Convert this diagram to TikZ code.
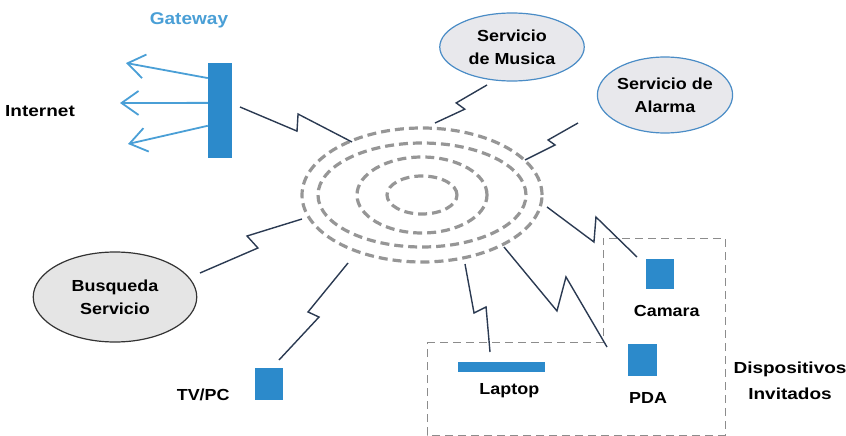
\documentclass[tikz,border=0pt]{standalone}
\usepackage{fontspec}
\setsansfont{Liberation Sans}
\usetikzlibrary{positioning,arrows.meta,calc,shapes.geometric}

\definecolor{devblue}{HTML}{2C8ACB}
\definecolor{arrblue}{HTML}{4A9FD6}
\definecolor{linkc}{HTML}{2B3A52}
\definecolor{ringc}{HTML}{969696}
\definecolor{srvfill}{HTML}{E8E8EC}
\definecolor{srvline}{HTML}{4A8CC6}

\begin{document}
\begin{tikzpicture}[x=1pt,y=-1pt,
  lbl/.style={font=\sffamily\bfseries\fontsize{16}{23}\selectfont,align=center,inner sep=0pt,xscale=1.12},
  srv/.style={lbl,ellipse,draw=srvline,fill=srvfill,line width=1.2pt},
  dev/.style={fill=devblue,inner sep=0pt},
  ring/.style={draw=ringc,line width=3.2pt,dash pattern=on 9pt off 5pt},
  arr/.style={arrblue,line width=1.8pt,-{Straight Barb[length=17pt,width=24pt]}},
  link/.style={linkc,line width=1.4pt},
  bolt/.style n args={4}{link,to path={-- ($(\tikztostart)!#1!(\tikztotarget)!#2pt!90:(\tikztotarget)$) -- ($(\tikztostart)!#3!(\tikztotarget)!#4pt!90:(\tikztotarget)$) -- (\tikztotarget)}},
  guest/.style={draw=black!45,dash pattern=on 8pt off 5pt,line width=0.8pt}]
\useasboundingbox (0,0) rectangle (846,436);

% red inalambrica
\coordinate (hub) at (422,195);
\foreach \rx/\ry in {120/67,104/52,65/38,35/19}
  \draw[ring] (hub) ellipse [x radius=\rx pt, y radius=\ry pt];

% gateway e internet
\node[dev,minimum width=24pt,minimum height=95pt] (gw) at (220,110.5) {};
\node[lbl,text=arrblue,font=\sffamily\bfseries\fontsize{17}{23}\selectfont] (gwL) at (189,20) {Gateway};
\node[lbl,xscale=1.06] (net) at (40,111) {Internet};
\coordinate (inA) at (126,63);
\coordinate (inB) at (120,103);
\coordinate (inC) at (128,144);
\foreach \t/\e in {.16/inA,.42/inB,.66/inC}
  \draw[arr] ($(gw.north west)!\t!(gw.south west)$) -- (\e);

% servicios
\node[srv,minimum width=129pt,minimum height=68pt] (mus) at (512,47) {Servicio\\de Musica};
\node[srv,minimum width=111pt,minimum height=76pt] (al) at (665,95) {Servicio de\\Alarma};
\node[srv,draw=black!80,fill=black!10,minimum width=146pt,minimum height=90pt] (bus) at (115,297) {Busqueda\\Servicio};

% dispositivos
\node[dev,minimum width=28pt,minimum height=32pt] (tv) at (269,384) {};
\node[dev,minimum width=87pt,minimum height=10pt] (lap) at (501.5,367) {};
\node[dev,minimum width=29pt,minimum height=32pt] (pda) at (642.5,360) {};
\node[dev,minimum width=28pt,minimum height=30pt] (cam) at (660,274) {};
\node[lbl,left=25pt of tv.south west,anchor=base east] (tvL) {TV/PC};
\node[lbl,below=11pt of lap,xshift=7pt] (lapL) {Laptop};
\node[lbl,below=16pt of pda,xshift=5pt] (pdaL) {PDA};
\node[lbl,below=16pt of cam,xshift=6pt] (camL) {Camara};

\draw[guest] (427,342) -- (603,342) -- (603,238) -- (725,238) -- (725,435) -- (427,435) -- cycle;
\node[lbl,font=\sffamily\bfseries\fontsize{16}{26}\selectfont,xscale=1.06] (inv) at (790,381) {Dispositivos\\Invitados};

% enlaces
\coordinate (rGw) at (352,142);  \coordinate (dGw) at (240,107);
\coordinate (rMus) at (435,123); \coordinate (dMus) at (487,85);
\coordinate (rAl) at (525,160);  \coordinate (dAl) at (578,123);
\coordinate (rBus) at (302,219); \coordinate (dBus) at (200,273);
\coordinate (rTv) at (348,263);  \coordinate (dTv) at (279,360);
\coordinate (rLap) at (465,264); \coordinate (dLap) at (490,352);
\coordinate (rPda) at (504,247); \coordinate (dPda) at (607,347);
\coordinate (rCam) at (547,207); \coordinate (dCam) at (637,257);
\foreach \a/\b/\ta/\da/\tb/\db in {rGw/dGw/.51/-10.6/.475/6,rMus/dMus/.5/-6.4/.45/3.7,
    rAl/dAl/.514/-4.9/.47/3.2,rBus/dBus/.49/-10.7/.455/5,rTv/dTv/.53/-4.2/.511/7.7,
    rLap/dLap/.542/-4.7/.515/8.5,rPda/dPda/.575/-9/.455/21.7,rCam/dCam/.564/-7.8/.463/15}
  \draw[bolt={\ta}{\da}{\tb}{\db}] (\a) to (\b);
\end{tikzpicture}
\end{document}
